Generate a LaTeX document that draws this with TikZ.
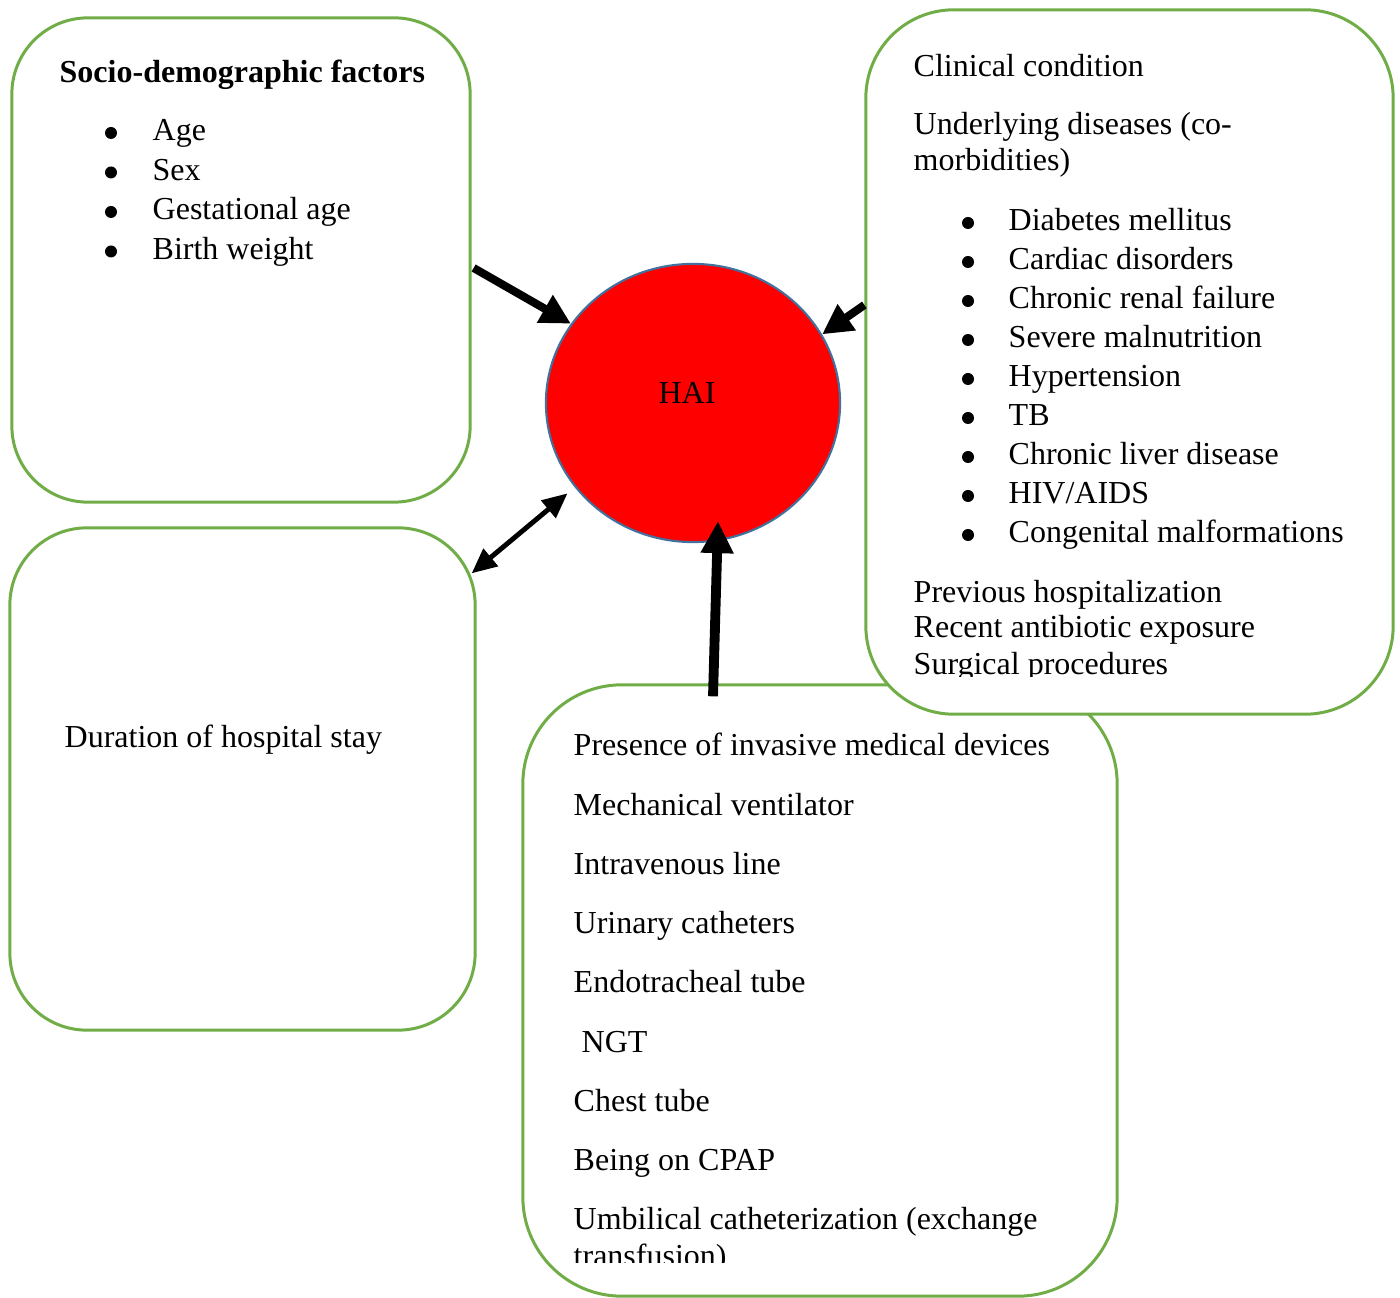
\documentclass[tikz,border=0pt]{standalone}
\usepackage{fontspec}
\setmainfont{Liberation Serif}
\usetikzlibrary{arrows.meta,shapes.geometric,calc}
\definecolor{boxgreen}{HTML}{70AD47}
\definecolor{ringblue}{HTML}{41719C}
\definecolor{haired}{HTML}{FF0000}

\begin{document}
\begin{tikzpicture}[x=0.01cm, y=-0.01cm,
    font=\fontsize{9.1}{11}\selectfont,
    factorbox/.style={draw=boxgreen, line width=0.85pt, fill=white, inner sep=0pt},
    txt/.style={anchor=base west, inner sep=0pt},
    bigarrow/.style={-{Triangle[length=0.3cm, width=0.3cm]}, line width=2.3pt}]

    \useasboundingbox (0,0) rectangle (1400,1298);

    % Riquadri dei fattori
    \node[factorbox, minimum width=4.58cm, minimum height=4.84cm, rounded corners=0.76cm] (sociobox) at (241,260) {};
    \node[factorbox, minimum width=4.65cm, minimum height=5.02cm, rounded corners=0.77cm] (durabox) at (242.5,779) {};
    \node[factorbox, minimum width=5.94cm, minimum height=6.11cm, rounded corners=0.99cm] (devbox) at (820,990.5) {};
    \node[factorbox, minimum width=5.27cm, minimum height=7.04cm, rounded corners=0.88cm] (clinbox) at (1129.5,362) {};

    % Cerchio centrale
    \node[ellipse, draw=ringblue, line width=0.6pt, fill=haired, minimum width=2.94cm, minimum height=2.78cm] (hai) at (693,403) {};
    \node[anchor=base, inner sep=0pt] (hailabel) at (687,404) {HAI};

    % Fattori socio-demografici
    \node[txt, font=\fontsize{9.1}{11}\selectfont\bfseries] (sociotitle) at (59,83) {Socio-demographic factors};
    \foreach \item [count=\i from 0] in {Age, Sex, Gestational age, Birth weight} {
        \fill (111,133+39.5*\i) circle[radius=6];
        \node[txt] (socioitem\i) at (152,141+39.5*\i) {\item};
    }

    % Durata della degenza
    \node[txt] (duratext) at (64,748) {Duration of hospital stay};

    % Condizione clinica
    \begin{scope}
        \clip (866,10) rectangle (1393,677);
        \node[txt] (clintitle) at (913,77) {Clinical condition};
        \node[txt] (clinsub1) at (913,135) {Underlying diseases (co-};
        \node[txt] (clinsub2) at (913,171) {morbidities)};
        \foreach \item [count=\i from 0] in {Diabetes mellitus, Cardiac disorders,
            Chronic renal failure, Severe malnutrition, Hypertension, TB,
            Chronic liver disease, HIV/AIDS, Congenital malformations} {
            \fill (968,223+39*\i) circle[radius=6];
            \node[txt] (clinitem\i) at (1008,231+39*\i) {\item};
        }
        \node[txt] (clinprev) at (913,603) {Previous hospitalization};
        \node[txt] (clinanti) at (913,638) {Recent antibiotic exposure};
        \node[txt] (clinsurg) at (913,675) {Surgical procedures};
    \end{scope}

    % Dispositivi invasivi
    \begin{scope}
        \clip (523,685) rectangle (1117,1262);
        \foreach \item [count=\i from 0] in {Presence of invasive medical devices,
            Mechanical ventilator, Intravenous line, Urinary catheters,
            Endotracheal tube, {\ NGT}, Chest tube, Being on CPAP,
            {Umbilical catheterization (exchange}} {
            \node[txt] (devitem\i) at (573,756+59.2*\i) {\item};
        }
        \node[txt] (devwrap) at (573,1266) {transfusion)};
    \end{scope}

    % Frecce
    \draw[bigarrow] ($(sociobox.east)+(2,8)$) -- (hai.147);
    \draw[bigarrow] ($(clinbox.west)+(0,-57)$) -- (hai.28);
    \draw[{Triangle[length=0.25cm, width=0.22cm]}-{Triangle[length=0.25cm, width=0.22cm]}, line width=1.4pt]
        ($(durabox.north east)+(-5,47)$) -- ($(hai.216)+(-8,5)$);
    \draw[-{Triangle[length=0.32cm, width=0.31cm]}, line width=2.8pt]
        ($(devbox.north)+(-107,13)$) -- ($(hai.south)+(25,-22)$);
\end{tikzpicture}
\end{document}
